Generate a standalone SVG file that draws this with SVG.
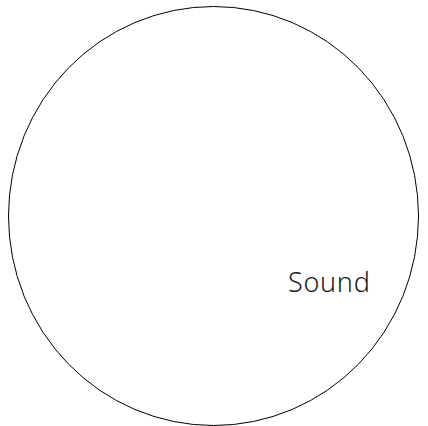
<svg xmlns="http://www.w3.org/2000/svg" width="428" height="426" viewBox="0 0 428 426">
<style>
.shape{fill:none;stroke:#000;stroke-width:1}
.label{font-family:"Noto Sans","Open Sans",sans-serif;font-size:27px;font-weight:300;letter-spacing:0.7px;fill:#222}
</style>
<rect width="428" height="426" fill="#fff"/>
<g id="sound">
<ellipse class="shape" cx="213.5" cy="216" rx="205" ry="209.5"/>
<text class="label" x="288" y="292">Sound</text>
</g>
<g id="connectors"></g>
</svg>
